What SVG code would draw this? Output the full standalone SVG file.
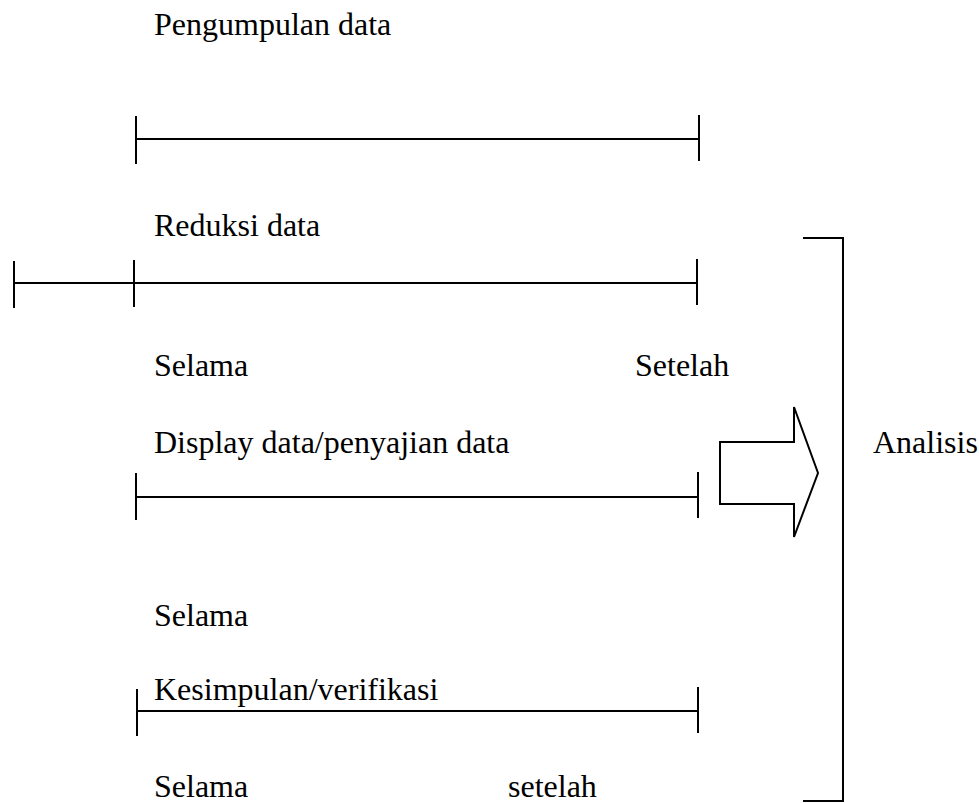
<svg xmlns="http://www.w3.org/2000/svg" width="979" height="803" viewBox="0 0 979 803">
  <style>
    .t { font-family: "Liberation Serif", "Times New Roman", serif; font-size: 32px; fill: #000; }
    .ln { stroke: #000; stroke-width: 2; fill: none; }
  </style>
  <rect width="979" height="803" fill="#fff"/>

  <g id="pengumpulan">
    <text class="t" x="154" y="35">Pengumpulan data</text>
    <path class="ln" d="M136 139 H699 M136 116 V164 M699 115 V161"/>
  </g>

  <g id="reduksi">
    <text class="t" x="154" y="236">Reduksi data</text>
    <path class="ln" d="M14 283 H697 M14 261 V308 M134 260 V307 M697 259 V305"/>
    <text class="t" x="154" y="376">Selama</text>
    <text class="t" x="635" y="376">Setelah</text>
  </g>

  <g id="display">
    <text class="t" x="154" y="453">Display data/penyajian data</text>
    <path class="ln" d="M136 497 H698 M136 473 V520 M698 472 V518"/>
    <text class="t" x="154" y="626">Selama</text>
  </g>

  <g id="kesimpulan">
    <text class="t" x="154" y="700">Kesimpulan/verifikasi</text>
    <path class="ln" d="M137 711 H698 M137 689 V736 M698 687 V733"/>
    <text class="t" x="154" y="797">Selama</text>
    <text class="t" x="508" y="797">setelah</text>
  </g>

  <g id="connectors">
    <polygon class="ln" fill="#fff" points="720,442 794,442 794,407 818,473 794,537 794,504 720,504"/>
    <path class="ln" d="M803 238 H843 V801 H803"/>
  </g>

  <g id="analisis">
    <text class="t" x="873" y="453">Analisis</text>
  </g>
</svg>
